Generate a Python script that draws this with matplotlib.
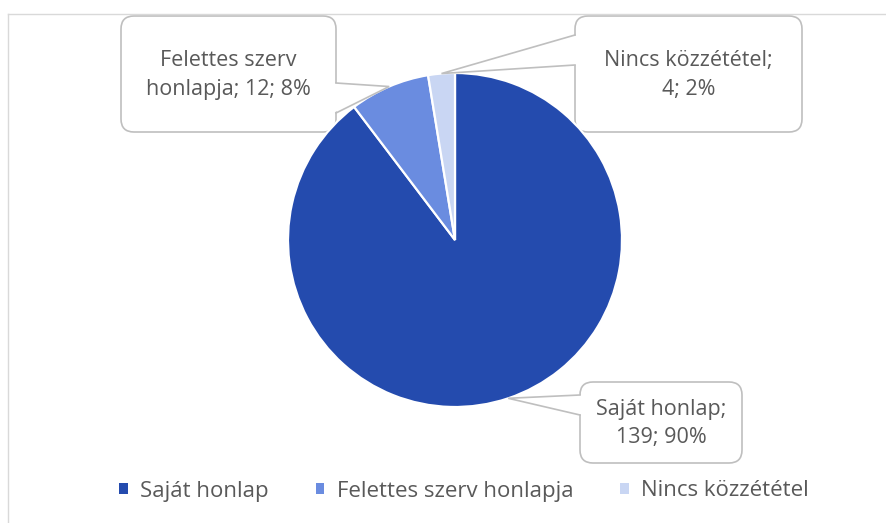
import numpy as np
import matplotlib
matplotlib.use("Agg")
import matplotlib.pyplot as plt
from matplotlib.patches import FancyBboxPatch, Polygon, Patch
from matplotlib.lines import Line2D

categories = ["Saját honlap", "Felettes szerv honlapja", "Nincs közzététel"]
values = [139, 12, 4]
percents = ["90%", "8%", "2%"]
label_lines = [["Saját honlap;", "139; 90%"],
               ["Felettes szerv", "honlapja; 12; 8%"],
               ["Nincs közzététel;", "4; 2%"]]
colors = ["#244BAE", "#6A8CE0", "#C9D6F3"]

W, H = 887, 523
plt.rcParams['font.family'] = ['Open Sans', 'DejaVu Sans']
TXT = "#595959"
EDGE = "#BFBFBF"

fig = plt.figure(figsize=(W / 100, H / 100), dpi=100)
ax = fig.add_axes([0, 0, 1, 1])

def P(x, y):
    return (x, H - y)

cx, cy, R = 455, 240, 167
wedges, _ = ax.pie(values, colors=colors, startangle=90, counterclock=False,
                   center=P(cx, cy), radius=R,
                   wedgeprops=dict(edgecolor="white", linewidth=1.6))
for w in wedges:
    w.set_zorder(4)
ax.set_xlim(0, W)
ax.set_ylim(0, H)
ax.axis("off")

# chart border (partially visible)
fig.add_artist(Line2D([8 / W, 8 / W], [0, 1 - 14 / H], color="#D9D9D9", lw=1, transform=fig.transFigure))
fig.add_artist(Line2D([8 / W, 1], [1 - 14 / H, 1 - 14 / H], color="#D9D9D9", lw=1, transform=fig.transFigure))

# callout layout: box (x0, y0, x1, y1) in px from top-left, pointer base points
boxes = [(580, 382, 742, 463), (121, 16, 336, 132), (575, 16, 802, 132)]
bases = [((580, 395), (580, 415)), ((336, 83), (336, 113)), ((575, 35), (575, 65))]
inward = [(1, 0), (-1, 0), (1, 0)]

for w, box, base, inw, lines in zip(wedges, boxes, bases, inward, label_lines):
    ang = np.deg2rad((w.theta1 + w.theta2) / 2)
    tip = (w.center[0] + R * np.cos(ang), w.center[1] + R * np.sin(ang))
    x0, y0, x1, y1 = box
    bx = FancyBboxPatch(P(x0, y1), x1 - x0, y1 - y0,
                        boxstyle="round,pad=0,rounding_size=13",
                        fc="white", ec=EDGE, lw=1.2, zorder=2)
    ax.add_patch(bx)
    b1 = P(*base[0]); b2 = P(*base[1])
    d = 3
    poly = Polygon([(b1[0] + inw[0] * d, b1[1]), tip, (b2[0] + inw[0] * d, b2[1])],
                   closed=True, fc="white", ec="none", zorder=3)
    ax.add_patch(poly)
    ax.plot([b1[0], tip[0], b2[0]], [b1[1], tip[1], b2[1]], color=EDGE, lw=1.2,
            zorder=5, solid_joinstyle="miter")
    tx = (x0 + x1) / 2
    tyc = (y0 + y1) / 2 + 1
    ax.text(tx, H - tyc, "\n".join(lines), ha="center", va="center", fontsize=15.5,
            color=TXT, linespacing=1.5, zorder=6)

handles = [Patch(facecolor=c, edgecolor="none") for c in colors]
fig.legend(handles=handles, labels=categories, loc="center",
           bbox_to_anchor=(464 / W, 1 - 491 / H), ncol=3, frameon=False,
           fontsize=16, handlelength=0.4, handleheight=0.4, handletextpad=0.55,
           columnspacing=2.1, labelcolor=TXT)

fig.savefig("out.png", dpi=100, facecolor="white")
